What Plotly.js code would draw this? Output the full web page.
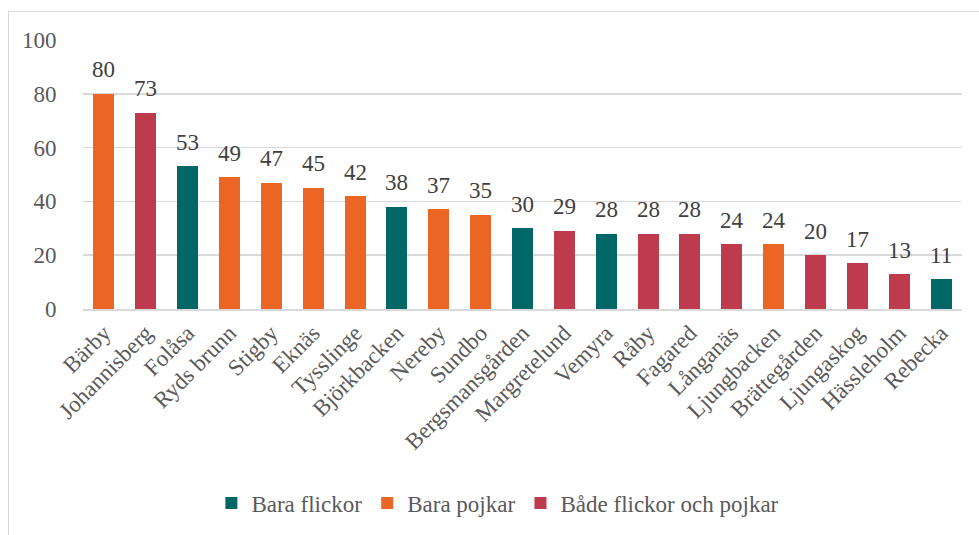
<!DOCTYPE html>
<html>
<head>
<meta charset="utf-8">
<script src="https://cdn.plot.ly/plotly-3.0.1.min.js"></script>
<style>
html,body{margin:0;padding:0;background:#fff;}
#frame{position:absolute;left:8px;top:11px;width:1000px;height:600px;border-left:1px solid #d9d9d9;border-top:1px solid #d9d9d9;}
#chart{position:absolute;left:0;top:0;width:979px;height:535px;}
</style>
</head>
<body>
<div id="frame"></div>
<div id="chart"></div>
<script>
const categories = ["Bärby","Johannisberg","Folåsa","Ryds brunn","Stigby","Eknäs","Tysslinge","Björkbacken","Nereby","Sundbo","Bergsmansgården","Margretelund","Vemyra","Råby","Fagared","Långanäs","Ljungbacken","Brättegården","Ljungaskog","Hässleholm","Rebecka"];
const values = [80,73,53,49,47,45,42,38,37,35,30,29,28,28,28,24,24,20,17,13,11];
const groups = ["P","B","F","P","P","P","P","F","P","P","F","B","F","B","B","B","P","B","B","B","F"];
const seriesNames = {F:"Bara flickor", P:"Bara pojkar", B:"Både flickor och pojkar"};
const seriesColors = {F:"#006766", P:"#EB6625", B:"#BE3A4D"};
const seriesOrder = ["F","P","B"];
const yTicks = [0,20,40,60,80,100];

const FONT = '"Liberation Serif", "Times New Roman", serif';

const traces = seriesOrder.map(k => {
  const y = values.map((v,i) => groups[i]===k ? v : null);
  return {
    type:'bar', name:seriesNames[k], x:categories, y:y,
    marker:{color:seriesColors[k]},
    hoverinfo:'x+y'
  };
});

const annotations = categories.map((c,i) => ({
  x:c, y:values[i], xref:'x', yref:'y', text:String(values[i]),
  showarrow:false, yanchor:'middle', xanchor:'center', yshift:24,
  font:{family:FONT, size:23, color:'#404040'}
}));

const layout = {
  width:979, height:535,
  margin:{l:83, r:17, t:40, b:225},
  paper_bgcolor:'rgba(0,0,0,0)', plot_bgcolor:'rgba(0,0,0,0)',
  barmode:'stack', bargap:0.5,
  font:{family:FONT, size:23, color:'#595959'},
  xaxis:{type:'category', tickangle:-45, showgrid:false, showline:true, linecolor:'#d9d9d9', linewidth:1.5, ticks:'', tickfont:{family:FONT, size:23,color:'#595959'}, fixedrange:true},
  yaxis:{range:[0,100], tickvals:yTicks, ticktext:yTicks.map(String), showgrid:true, gridcolor:'#d9d9d9', gridwidth:1.5, zeroline:false, showline:false, ticks:'outside', ticklen:21, tickcolor:'rgba(0,0,0,0)', tickfont:{family:FONT, size:23,color:'#595959'}, fixedrange:true},
  annotations:annotations,
  showlegend:true,
  legend:{orientation:'h', x:0.472, xanchor:'center', y:-0.715, yanchor:'middle', font:{family:FONT, size:23,color:'#595959'}, traceorder:'normal', itemwidth:30},
};
Plotly.newPlot('chart', traces, layout, {displayModeBar:false, staticPlot:true});
</script>
</body>
</html>
